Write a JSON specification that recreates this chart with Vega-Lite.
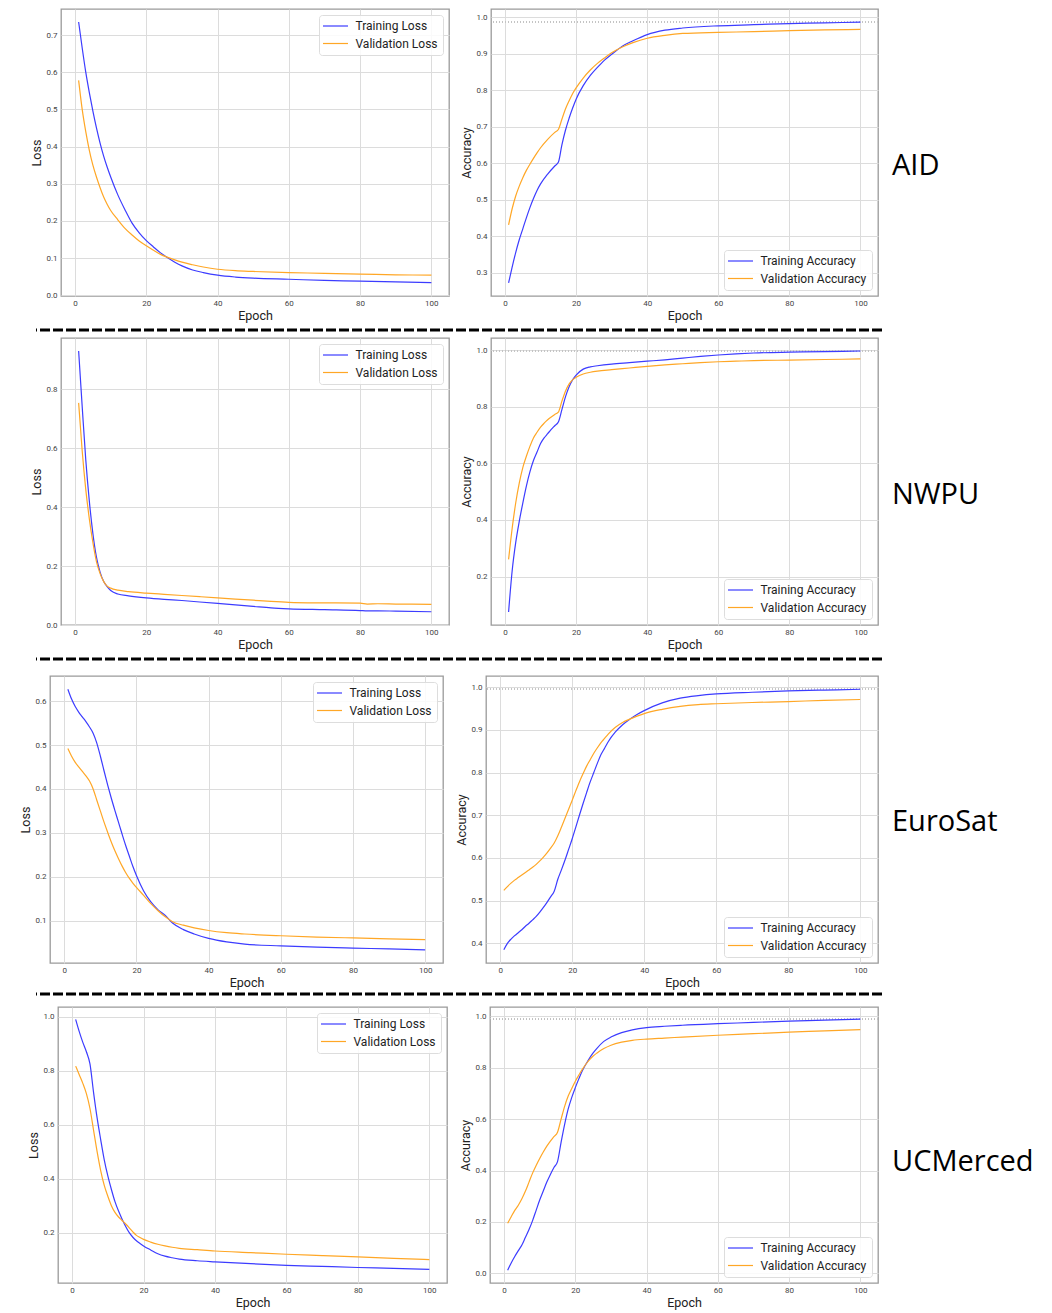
{
"$schema": "https://vega.github.io/schema/vega-lite/v6.json",
"padding": {"left": 0, "top": 8, "right": 0, "bottom": 0},
"background": "white",
"config": {
  "view": {"stroke": "#9a9a9a", "strokeWidth": 1.3},
  "axis": {"grid": true, "gridColor": "#dcdcdc", "gridWidth": 1, "domain": false, "ticks": false, "labelFont": "Roboto", "labelFontSize": 8, "labelColor": "#444444", "labelPadding": 3, "titleFont": "Roboto", "titleFontSize": 12.5, "titleFontWeight": "normal", "titleColor": "#222222", "titlePadding": 2},
  "axisY": {"minExtent": 16, "maxExtent": 16, "labelPadding": 4},
  "legend": {"fillColor": "rgba(255,255,255,0.85)", "strokeColor": "#dddddd", "cornerRadius": 3, "padding": 5, "symbolType": "M-2.5,0H2.5", "symbolSize": 100, "symbolOffset": 5.5, "symbolStrokeWidth": 1.2, "labelFont": "Roboto", "labelFontSize": 12, "labelColor": "#222222", "rowPadding": 5.5, "labelOffset": 14, "offset": 6, "labelLimit": 300, "title": null}
},
"datasets": {
  "aid_loss": [{"e":1,"train":0.735,"val":0.578},{"e":2,"train":0.665,"val":0.5},{"e":3,"train":0.6,"val":0.44},{"e":4,"train":0.545,"val":0.39},{"e":5,"train":0.495,"val":0.35},{"e":6,"train":0.45,"val":0.318},{"e":7,"train":0.41,"val":0.29},{"e":8,"train":0.375,"val":0.265},{"e":9,"train":0.345,"val":0.245},{"e":10,"train":0.318,"val":0.228},{"e":12,"train":0.27,"val":0.203},{"e":14,"train":0.23,"val":0.18},{"e":16,"train":0.194,"val":0.162},{"e":18,"train":0.168,"val":0.146},{"e":20,"train":0.147,"val":0.133},{"e":22,"train":0.13,"val":0.121},{"e":24,"train":0.114,"val":0.11},{"e":26,"train":0.101,"val":0.102},{"e":28,"train":0.089,"val":0.095},{"e":30,"train":0.079,"val":0.089},{"e":33,"train":0.068,"val":0.082},{"e":36,"train":0.061,"val":0.076},{"e":40,"train":0.054,"val":0.07},{"e":45,"train":0.049,"val":0.066},{"e":50,"train":0.046,"val":0.064},{"e":60,"train":0.043,"val":0.061},{"e":70,"train":0.04,"val":0.059},{"e":80,"train":0.038,"val":0.057},{"e":90,"train":0.036,"val":0.055},{"e":100,"train":0.034,"val":0.054}],
  "aid_acc": [{"e":1,"train":0.272,"val":0.431},{"e":2,"train":0.315,"val":0.475},{"e":3,"train":0.355,"val":0.51},{"e":4,"train":0.39,"val":0.537},{"e":5,"train":0.42,"val":0.56},{"e":6,"train":0.45,"val":0.58},{"e":7,"train":0.478,"val":0.597},{"e":8,"train":0.503,"val":0.613},{"e":9,"train":0.525,"val":0.628},{"e":10,"train":0.543,"val":0.642},{"e":12,"train":0.57,"val":0.665},{"e":14,"train":0.592,"val":0.684},{"e":15,"train":0.602,"val":0.692},{"e":16,"train":0.65,"val":0.72},{"e":17,"train":0.69,"val":0.748},{"e":18,"train":0.722,"val":0.77},{"e":19,"train":0.75,"val":0.79},{"e":20,"train":0.775,"val":0.806},{"e":22,"train":0.812,"val":0.833},{"e":24,"train":0.84,"val":0.855},{"e":26,"train":0.862,"val":0.873},{"e":28,"train":0.882,"val":0.888},{"e":30,"train":0.898,"val":0.902},{"e":33,"train":0.92,"val":0.918},{"e":36,"train":0.935,"val":0.93},{"e":40,"train":0.952,"val":0.942},{"e":45,"train":0.964,"val":0.95},{"e":50,"train":0.97,"val":0.955},{"e":60,"train":0.976,"val":0.958},{"e":70,"train":0.979,"val":0.96},{"e":80,"train":0.982,"val":0.963},{"e":90,"train":0.984,"val":0.965},{"e":100,"train":0.986,"val":0.966}],
  "nwpu_loss": [{"e":1,"train":0.929,"val":0.753},{"e":2,"train":0.74,"val":0.59},{"e":3,"train":0.56,"val":0.46},{"e":4,"train":0.42,"val":0.36},{"e":5,"train":0.31,"val":0.28},{"e":6,"train":0.23,"val":0.215},{"e":7,"train":0.18,"val":0.175},{"e":8,"train":0.148,"val":0.148},{"e":9,"train":0.13,"val":0.132},{"e":10,"train":0.117,"val":0.125},{"e":12,"train":0.105,"val":0.118},{"e":15,"train":0.099,"val":0.113},{"e":20,"train":0.092,"val":0.108},{"e":25,"train":0.087,"val":0.104},{"e":30,"train":0.083,"val":0.1},{"e":35,"train":0.078,"val":0.096},{"e":40,"train":0.073,"val":0.092},{"e":45,"train":0.068,"val":0.088},{"e":50,"train":0.063,"val":0.084},{"e":55,"train":0.058,"val":0.08},{"e":60,"train":0.055,"val":0.077},{"e":70,"train":0.052,"val":0.075},{"e":80,"train":0.049,"val":0.074},{"e":82,"train":0.048,"val":0.071},{"e":85,"train":0.048,"val":0.072},{"e":90,"train":0.047,"val":0.071},{"e":100,"train":0.045,"val":0.07}],
  "nwpu_acc": [{"e":1,"train":0.075,"val":0.261},{"e":2,"train":0.22,"val":0.37},{"e":3,"train":0.32,"val":0.46},{"e":4,"train":0.395,"val":0.53},{"e":5,"train":0.46,"val":0.585},{"e":6,"train":0.52,"val":0.625},{"e":7,"train":0.57,"val":0.66},{"e":8,"train":0.61,"val":0.69},{"e":9,"train":0.64,"val":0.71},{"e":10,"train":0.67,"val":0.728},{"e":11,"train":0.69,"val":0.742},{"e":12,"train":0.705,"val":0.754},{"e":13,"train":0.72,"val":0.764},{"e":14,"train":0.733,"val":0.773},{"e":15,"train":0.746,"val":0.781},{"e":16,"train":0.79,"val":0.82},{"e":17,"train":0.835,"val":0.855},{"e":18,"train":0.87,"val":0.88},{"e":19,"train":0.895,"val":0.895},{"e":20,"train":0.912,"val":0.904},{"e":22,"train":0.933,"val":0.916},{"e":24,"train":0.941,"val":0.922},{"e":26,"train":0.945,"val":0.926},{"e":30,"train":0.951,"val":0.931},{"e":35,"train":0.956,"val":0.937},{"e":40,"train":0.961,"val":0.943},{"e":45,"train":0.966,"val":0.948},{"e":50,"train":0.972,"val":0.952},{"e":55,"train":0.978,"val":0.956},{"e":60,"train":0.983,"val":0.959},{"e":65,"train":0.987,"val":0.961},{"e":70,"train":0.99,"val":0.963},{"e":80,"train":0.993,"val":0.965},{"e":90,"train":0.995,"val":0.967},{"e":100,"train":0.997,"val":0.969}],
  "euro_loss": [{"e":1,"train":0.627,"val":0.492},{"e":2,"train":0.605,"val":0.475},{"e":3,"train":0.588,"val":0.461},{"e":4,"train":0.575,"val":0.45},{"e":5,"train":0.564,"val":0.44},{"e":6,"train":0.553,"val":0.43},{"e":7,"train":0.541,"val":0.418},{"e":8,"train":0.527,"val":0.4},{"e":9,"train":0.505,"val":0.375},{"e":10,"train":0.475,"val":0.35},{"e":11,"train":0.442,"val":0.325},{"e":12,"train":0.41,"val":0.302},{"e":13,"train":0.38,"val":0.28},{"e":14,"train":0.352,"val":0.26},{"e":15,"train":0.325,"val":0.242},{"e":16,"train":0.298,"val":0.225},{"e":17,"train":0.272,"val":0.21},{"e":18,"train":0.248,"val":0.197},{"e":19,"train":0.224,"val":0.186},{"e":20,"train":0.203,"val":0.176},{"e":22,"train":0.168,"val":0.158},{"e":24,"train":0.143,"val":0.139},{"e":26,"train":0.125,"val":0.123},{"e":28,"train":0.112,"val":0.109},{"e":30,"train":0.095,"val":0.098},{"e":33,"train":0.08,"val":0.09},{"e":36,"train":0.07,"val":0.084},{"e":40,"train":0.06,"val":0.078},{"e":45,"train":0.052,"val":0.073},{"e":50,"train":0.047,"val":0.07},{"e":60,"train":0.043,"val":0.066},{"e":70,"train":0.04,"val":0.063},{"e":80,"train":0.038,"val":0.061},{"e":90,"train":0.036,"val":0.059},{"e":100,"train":0.034,"val":0.057}],
  "euro_acc": [{"e":1,"train":0.385,"val":0.524},{"e":2,"train":0.4,"val":0.533},{"e":3,"train":0.41,"val":0.541},{"e":4,"train":0.418,"val":0.548},{"e":5,"train":0.425,"val":0.554},{"e":6,"train":0.432,"val":0.56},{"e":7,"train":0.44,"val":0.566},{"e":8,"train":0.447,"val":0.572},{"e":9,"train":0.455,"val":0.578},{"e":10,"train":0.463,"val":0.585},{"e":11,"train":0.473,"val":0.593},{"e":12,"train":0.484,"val":0.602},{"e":13,"train":0.496,"val":0.612},{"e":14,"train":0.509,"val":0.623},{"e":15,"train":0.522,"val":0.635},{"e":16,"train":0.55,"val":0.652},{"e":17,"train":0.572,"val":0.672},{"e":18,"train":0.595,"val":0.693},{"e":19,"train":0.62,"val":0.714},{"e":20,"train":0.645,"val":0.735},{"e":21,"train":0.672,"val":0.757},{"e":22,"train":0.7,"val":0.778},{"e":23,"train":0.727,"val":0.797},{"e":24,"train":0.753,"val":0.815},{"e":25,"train":0.778,"val":0.83},{"e":26,"train":0.8,"val":0.845},{"e":27,"train":0.822,"val":0.858},{"e":28,"train":0.842,"val":0.87},{"e":29,"train":0.857,"val":0.88},{"e":30,"train":0.872,"val":0.89},{"e":32,"train":0.895,"val":0.906},{"e":34,"train":0.912,"val":0.917},{"e":36,"train":0.925,"val":0.925},{"e":38,"train":0.936,"val":0.932},{"e":40,"train":0.945,"val":0.938},{"e":45,"train":0.963,"val":0.948},{"e":50,"train":0.974,"val":0.955},{"e":55,"train":0.98,"val":0.959},{"e":60,"train":0.984,"val":0.961},{"e":70,"train":0.988,"val":0.964},{"e":80,"train":0.991,"val":0.966},{"e":90,"train":0.993,"val":0.969},{"e":100,"train":0.995,"val":0.971}],
  "uc_loss": [{"e":1,"train":0.99,"val":0.817},{"e":2,"train":0.945,"val":0.785},{"e":3,"train":0.905,"val":0.753},{"e":4,"train":0.87,"val":0.715},{"e":5,"train":0.825,"val":0.66},{"e":6,"train":0.72,"val":0.58},{"e":7,"train":0.625,"val":0.5},{"e":8,"train":0.545,"val":0.43},{"e":9,"train":0.47,"val":0.375},{"e":10,"train":0.41,"val":0.335},{"e":11,"train":0.36,"val":0.3},{"e":12,"train":0.315,"val":0.275},{"e":13,"train":0.28,"val":0.258},{"e":14,"train":0.25,"val":0.245},{"e":15,"train":0.223,"val":0.232},{"e":16,"train":0.2,"val":0.218},{"e":17,"train":0.183,"val":0.203},{"e":18,"train":0.17,"val":0.19},{"e":19,"train":0.16,"val":0.182},{"e":20,"train":0.151,"val":0.175},{"e":22,"train":0.136,"val":0.165},{"e":24,"train":0.122,"val":0.157},{"e":26,"train":0.113,"val":0.151},{"e":28,"train":0.107,"val":0.146},{"e":30,"train":0.102,"val":0.142},{"e":35,"train":0.096,"val":0.137},{"e":40,"train":0.092,"val":0.132},{"e":50,"train":0.085,"val":0.126},{"e":60,"train":0.079,"val":0.12},{"e":70,"train":0.075,"val":0.115},{"e":80,"train":0.071,"val":0.11},{"e":90,"train":0.068,"val":0.105},{"e":100,"train":0.064,"val":0.1}],
  "uc_acc": [{"e":1,"train":0.012,"val":0.195},{"e":2,"train":0.04,"val":0.22},{"e":3,"train":0.065,"val":0.245},{"e":4,"train":0.088,"val":0.265},{"e":5,"train":0.11,"val":0.29},{"e":6,"train":0.14,"val":0.32},{"e":7,"train":0.17,"val":0.355},{"e":8,"train":0.205,"val":0.39},{"e":9,"train":0.245,"val":0.42},{"e":10,"train":0.285,"val":0.447},{"e":11,"train":0.32,"val":0.472},{"e":12,"train":0.355,"val":0.495},{"e":13,"train":0.385,"val":0.515},{"e":14,"train":0.412,"val":0.532},{"e":15,"train":0.435,"val":0.549},{"e":16,"train":0.51,"val":0.6},{"e":17,"train":0.58,"val":0.65},{"e":18,"train":0.64,"val":0.69},{"e":19,"train":0.685,"val":0.72},{"e":20,"train":0.723,"val":0.748},{"e":21,"train":0.758,"val":0.772},{"e":22,"train":0.79,"val":0.795},{"e":23,"train":0.815,"val":0.815},{"e":24,"train":0.838,"val":0.832},{"e":25,"train":0.858,"val":0.846},{"e":26,"train":0.875,"val":0.857},{"e":28,"train":0.903,"val":0.875},{"e":30,"train":0.92,"val":0.888},{"e":33,"train":0.937,"val":0.9},{"e":36,"train":0.948,"val":0.907},{"e":40,"train":0.957,"val":0.912},{"e":45,"train":0.962,"val":0.916},{"e":50,"train":0.966,"val":0.92},{"e":60,"train":0.972,"val":0.927},{"e":70,"train":0.977,"val":0.933},{"e":80,"train":0.982,"val":0.939},{"e":90,"train":0.986,"val":0.944},{"e":100,"train":0.99,"val":0.949}]
},
"spacing": 0,
"resolve": {"scale": {"color": "independent"}, "legend": {"color": "independent"}},
"vconcat": [
  {"hconcat": [
    {"width": 19.5, "height": 10, "view": {"stroke": null}, "data": {"values": []}, "mark": "point"},
    {"width": 388, "height": 287, "data": {"name": "aid_loss"},
     "transform": [{"fold": ["train", "val"], "as": ["series", "value"]}],
     "mark": {"type": "line", "strokeWidth": 1.2, "interpolate": "monotone"},
     "encoding": {
       "x": {"field": "e", "type": "quantitative", "scale": {"domain": [-3.95, 104.95], "nice": false, "zero": false}, "axis": {"values": [0, 20, 40, 60, 80, 100], "title": "Epoch"}},
       "y": {"field": "value", "type": "quantitative", "scale": {"domain": [-0.002, 0.77], "nice": false, "zero": false}, "axis": {"values": [0, 0.1, 0.2, 0.3, 0.4, 0.5, 0.6, 0.7], "format": ".1f", "title": "Loss"}},
       "color": {"field": "series", "type": "nominal", "scale": {"domain": ["train", "val"], "range": ["#3c3cff", "#ffa726"]}, "legend": {"orient": "top-right", "labelExpr": "datum.label === 'train' ? 'Training Loss' : 'Validation Loss'"}}
     }},
    {"width": 387, "height": 287, "data": {"name": "aid_acc"},
     "layer": [
       {"mark": {"type": "rule", "strokeDash": [1, 2], "color": "#c4c4c4", "strokeWidth": 1}, "encoding": {"y": {"datum": 0.986, "type": "quantitative"}}},
       {"transform": [{"fold": ["train", "val"], "as": ["series", "value"]}],
        "mark": {"type": "line", "strokeWidth": 1.2, "interpolate": "monotone"},
        "encoding": {
          "x": {"field": "e", "type": "quantitative", "scale": {"domain": [-3.95, 104.95], "nice": false, "zero": false}, "axis": {"values": [0, 20, 40, 60, 80, 100], "title": "Epoch"}},
          "y": {"field": "value", "type": "quantitative", "scale": {"domain": [0.236, 1.022], "nice": false, "zero": false}, "axis": {"values": [0.3, 0.4, 0.5, 0.6, 0.7, 0.8, 0.9, 1.0], "format": ".1f", "title": "Accuracy"}},
          "color": {"field": "series", "type": "nominal", "scale": {"domain": ["train", "val"], "range": ["#3c3cff", "#ffa726"]}, "legend": {"orient": "bottom-right", "labelExpr": "datum.label === 'train' ? 'Training Accuracy' : 'Validation Accuracy'"}}
        }}
     ]},
    {"width": 150, "height": 287, "view": {"stroke": null}, "data": {"values": [{"label": "AID"}]},
     "mark": {"type": "text", "align": "left", "baseline": "middle", "font": "Open Sans", "fontSize": 29, "color": "black", "dx": 3},
     "encoding": {"text": {"field": "label"}, "x": {"datum": 0, "type": "quantitative", "scale": {"domain": [0, 1]}, "axis": null}, "y": {"datum": 0.453, "type": "quantitative", "scale": {"domain": [0, 1]}, "axis": null}}}
  ], "spacing": 9, "resolve": {"scale": {"color": "independent"}, "legend": {"color": "independent"}}},
  {"hconcat": [
    {"width": 34, "height": 10, "view": {"stroke": null}, "data": {"values": []}, "mark": "point"},
    {"width": 846, "height": 14, "view": {"stroke": null}, "data": {"values": [{}]},
     "mark": {"type": "rule", "strokeDash": [10, 3], "strokeWidth": 3, "color": "black"},
     "encoding": {"y": {"datum": 0.5, "type": "quantitative", "scale": {"domain": [0, 1]}, "axis": null}}}
  ], "spacing": 0},
  {"hconcat": [
    {"width": 19.5, "height": 10, "view": {"stroke": null}, "data": {"values": []}, "mark": "point"},
    {"width": 388, "height": 287, "data": {"name": "nwpu_loss"},
     "transform": [{"fold": ["train", "val"], "as": ["series", "value"]}],
     "mark": {"type": "line", "strokeWidth": 1.2, "interpolate": "monotone"},
     "encoding": {
       "x": {"field": "e", "type": "quantitative", "scale": {"domain": [-3.95, 104.95], "nice": false, "zero": false}, "axis": {"values": [0, 20, 40, 60, 80, 100], "title": "Epoch"}},
       "y": {"field": "value", "type": "quantitative", "scale": {"domain": [0, 0.973], "nice": false, "zero": false}, "axis": {"values": [0, 0.2, 0.4, 0.6, 0.8], "format": ".1f", "title": "Loss"}},
       "color": {"field": "series", "type": "nominal", "scale": {"domain": ["train", "val"], "range": ["#3c3cff", "#ffa726"]}, "legend": {"orient": "top-right", "labelExpr": "datum.label === 'train' ? 'Training Loss' : 'Validation Loss'"}}
     }},
    {"width": 387, "height": 287, "data": {"name": "nwpu_acc"},
     "layer": [
       {"mark": {"type": "rule", "strokeDash": [1, 2], "color": "#c4c4c4", "strokeWidth": 1}, "encoding": {"y": {"datum": 0.998, "type": "quantitative"}}},
       {"transform": [{"fold": ["train", "val"], "as": ["series", "value"]}],
        "mark": {"type": "line", "strokeWidth": 1.2, "interpolate": "monotone"},
        "encoding": {
          "x": {"field": "e", "type": "quantitative", "scale": {"domain": [-3.95, 104.95], "nice": false, "zero": false}, "axis": {"values": [0, 20, 40, 60, 80, 100], "title": "Epoch"}},
          "y": {"field": "value", "type": "quantitative", "scale": {"domain": [0.029, 1.043], "nice": false, "zero": false}, "axis": {"values": [0.2, 0.4, 0.6, 0.8, 1.0], "format": ".1f", "title": "Accuracy"}},
          "color": {"field": "series", "type": "nominal", "scale": {"domain": ["train", "val"], "range": ["#3c3cff", "#ffa726"]}, "legend": {"orient": "bottom-right", "labelExpr": "datum.label === 'train' ? 'Training Accuracy' : 'Validation Accuracy'"}}
        }}
     ]},
    {"width": 150, "height": 287, "view": {"stroke": null}, "data": {"values": [{"label": "NWPU"}]},
     "mark": {"type": "text", "align": "left", "baseline": "middle", "font": "Open Sans", "fontSize": 29, "color": "black", "dx": 3},
     "encoding": {"text": {"field": "label"}, "x": {"datum": 0, "type": "quantitative", "scale": {"domain": [0, 1]}, "axis": null}, "y": {"datum": 0.453, "type": "quantitative", "scale": {"domain": [0, 1]}, "axis": null}}}
  ], "spacing": 9, "resolve": {"scale": {"color": "independent"}, "legend": {"color": "independent"}}},
  {"hconcat": [
    {"width": 34, "height": 10, "view": {"stroke": null}, "data": {"values": []}, "mark": "point"},
    {"width": 846, "height": 23, "view": {"stroke": null}, "data": {"values": [{}]},
     "mark": {"type": "rule", "strokeDash": [10, 3], "strokeWidth": 3, "color": "black"},
     "encoding": {"y": {"datum": 0.696, "type": "quantitative", "scale": {"domain": [0, 1]}, "axis": null}}}
  ], "spacing": 0},
  {"hconcat": [
    {"width": 7.5, "height": 10, "view": {"stroke": null}, "data": {"values": []}, "mark": "point"},
    {"width": 393, "height": 287, "data": {"name": "euro_loss"},
     "transform": [{"fold": ["train", "val"], "as": ["series", "value"]}],
     "mark": {"type": "line", "strokeWidth": 1.2, "interpolate": "monotone"},
     "encoding": {
       "x": {"field": "e", "type": "quantitative", "scale": {"domain": [-3.95, 104.95], "nice": false, "zero": false}, "axis": {"values": [0, 20, 40, 60, 80, 100], "title": "Epoch"}},
       "y": {"field": "value", "type": "quantitative", "scale": {"domain": [0.004, 0.657], "nice": false, "zero": false}, "axis": {"values": [0.1, 0.2, 0.3, 0.4, 0.5, 0.6], "format": ".1f", "title": "Loss"}},
       "color": {"field": "series", "type": "nominal", "scale": {"domain": ["train", "val"], "range": ["#3c3cff", "#ffa726"]}, "legend": {"orient": "top-right", "labelExpr": "datum.label === 'train' ? 'Training Loss' : 'Validation Loss'"}}
     }},
    {"width": 392, "height": 287, "data": {"name": "euro_acc"},
     "layer": [
       {"mark": {"type": "rule", "strokeDash": [1, 2], "color": "#c4c4c4", "strokeWidth": 1}, "encoding": {"y": {"datum": 0.996, "type": "quantitative"}}},
       {"transform": [{"fold": ["train", "val"], "as": ["series", "value"]}],
        "mark": {"type": "line", "strokeWidth": 1.2, "interpolate": "monotone"},
        "encoding": {
          "x": {"field": "e", "type": "quantitative", "scale": {"domain": [-3.95, 104.95], "nice": false, "zero": false}, "axis": {"values": [0, 20, 40, 60, 80, 100], "title": "Epoch"}},
          "y": {"field": "value", "type": "quantitative", "scale": {"domain": [0.354, 1.026], "nice": false, "zero": false}, "axis": {"values": [0.4, 0.5, 0.6, 0.7, 0.8, 0.9, 1.0], "format": ".1f", "title": "Accuracy"}},
          "color": {"field": "series", "type": "nominal", "scale": {"domain": ["train", "val"], "range": ["#3c3cff", "#ffa726"]}, "legend": {"orient": "bottom-right", "labelExpr": "datum.label === 'train' ? 'Training Accuracy' : 'Validation Accuracy'"}}
        }}
     ]},
    {"width": 150, "height": 287, "view": {"stroke": null}, "data": {"values": [{"label": "EuroSat"}]},
     "mark": {"type": "text", "align": "left", "baseline": "middle", "font": "Open Sans", "fontSize": 29, "color": "black", "dx": 2},
     "encoding": {"text": {"field": "label"}, "x": {"datum": 0, "type": "quantitative", "scale": {"domain": [0, 1]}, "axis": null}, "y": {"datum": 0.491, "type": "quantitative", "scale": {"domain": [0, 1]}, "axis": null}}}
  ], "spacing": 10, "resolve": {"scale": {"color": "independent"}, "legend": {"color": "independent"}}},
  {"hconcat": [
    {"width": 34, "height": 10, "view": {"stroke": null}, "data": {"values": []}, "mark": "point"},
    {"width": 846, "height": 16, "view": {"stroke": null}, "data": {"values": [{}]},
     "mark": {"type": "rule", "strokeDash": [10, 3], "strokeWidth": 3, "color": "black"},
     "encoding": {"y": {"datum": 0.75, "type": "quantitative", "scale": {"domain": [0, 1]}, "axis": null}}}
  ], "spacing": 0},
  {"hconcat": [
    {"width": 15.5, "height": 10, "view": {"stroke": null}, "data": {"values": []}, "mark": "point"},
    {"width": 389, "height": 276, "data": {"name": "uc_loss"},
     "transform": [{"fold": ["train", "val"], "as": ["series", "value"]}],
     "mark": {"type": "line", "strokeWidth": 1.2, "interpolate": "monotone"},
     "encoding": {
       "x": {"field": "e", "type": "quantitative", "scale": {"domain": [-3.95, 104.95], "nice": false, "zero": false}, "axis": {"values": [0, 20, 40, 60, 80, 100], "title": "Epoch"}},
       "y": {"field": "value", "type": "quantitative", "scale": {"domain": [0.0135, 1.036], "nice": false, "zero": false}, "axis": {"values": [0.2, 0.4, 0.6, 0.8, 1.0], "format": ".1f", "title": "Loss"}},
       "color": {"field": "series", "type": "nominal", "scale": {"domain": ["train", "val"], "range": ["#3c3cff", "#ffa726"]}, "legend": {"orient": "top-right", "labelExpr": "datum.label === 'train' ? 'Training Loss' : 'Validation Loss'"}}
     }},
    {"width": 388, "height": 276, "data": {"name": "uc_acc"},
     "layer": [
       {"mark": {"type": "rule", "strokeDash": [1, 2], "color": "#c4c4c4", "strokeWidth": 1}, "encoding": {"y": {"datum": 0.992, "type": "quantitative"}}},
       {"transform": [{"fold": ["train", "val"], "as": ["series", "value"]}],
        "mark": {"type": "line", "strokeWidth": 1.2, "interpolate": "monotone"},
        "encoding": {
          "x": {"field": "e", "type": "quantitative", "scale": {"domain": [-3.95, 104.95], "nice": false, "zero": false}, "axis": {"values": [0, 20, 40, 60, 80, 100], "title": "Epoch"}},
          "y": {"field": "value", "type": "quantitative", "scale": {"domain": [-0.038, 1.037], "nice": false, "zero": false}, "axis": {"values": [0, 0.2, 0.4, 0.6, 0.8, 1.0], "format": ".1f", "title": "Accuracy"}},
          "color": {"field": "series", "type": "nominal", "scale": {"domain": ["train", "val"], "range": ["#3c3cff", "#ffa726"]}, "legend": {"orient": "bottom-right", "labelExpr": "datum.label === 'train' ? 'Training Accuracy' : 'Validation Accuracy'"}}
        }}
     ]},
    {"width": 150, "height": 276, "view": {"stroke": null}, "data": {"values": [{"label": "UCMerced"}]},
     "mark": {"type": "text", "align": "left", "baseline": "middle", "font": "Open Sans", "fontSize": 29, "color": "black", "dx": 2},
     "encoding": {"text": {"field": "label"}, "x": {"datum": 0, "type": "quantitative", "scale": {"domain": [0, 1]}, "axis": null}, "y": {"datum": 0.438, "type": "quantitative", "scale": {"domain": [0, 1]}, "axis": null}}}
  ], "spacing": 10, "resolve": {"scale": {"color": "independent"}, "legend": {"color": "independent"}}}
]
}
